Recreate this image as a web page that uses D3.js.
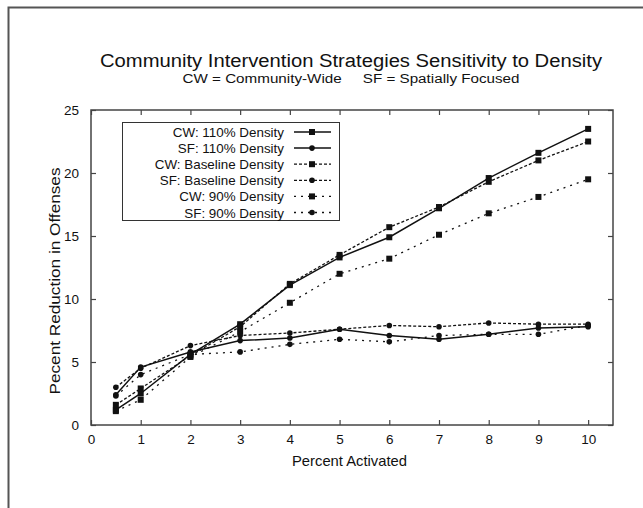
<!DOCTYPE html>
<html>
<head>
<meta charset="utf-8">
<script src="https://cdn.jsdelivr.net/npm/d3@7"></script>
<style>
  body { margin: 0; background: #fff; }
  text { font-family: "Liberation Sans", Arial, sans-serif; fill: #111; }
</style>
</head>
<body>
<svg id="chart" width="643" height="508"></svg>
<script>
// values
var percentActivated = [0.5, 1, 2, 3, 4, 5, 6, 7, 8, 9, 10];
var cw110 = [1.2, 2.5, 5.6, 8.0, 11.1, 13.3, 14.9, 17.2, 19.6, 21.6, 23.5];
var sf110 = [2.4, 4.6, 5.8, 6.7, 6.9, 7.6, 7.1, 6.8, 7.2, 7.7, 7.8];
var cwBase = [1.6, 2.9, 5.5, 7.8, 11.2, 13.5, 15.7, 17.3, 19.3, 21.0, 22.5];
var sfBase = [3.0, 4.5, 6.3, 7.1, 7.3, 7.6, 7.9, 7.8, 8.1, 8.0, 8.0];
var cw90 = [1.1, 2.0, 5.4, 7.4, 9.7, 12.0, 13.2, 15.1, 16.8, 18.1, 19.5];
var sf90 = [2.3, 4.0, 5.6, 5.8, 6.4, 6.8, 6.6, 7.1, 7.2, 7.2, 7.9];

var seriesNames = ["CW: 110% Density", "SF: 110% Density", "CW: Baseline Density",
                   "SF: Baseline Density", "CW: 90% Density", "SF: 90% Density"];
var seriesValues = [cw110, sf110, cwBase, sfBase, cw90, sf90];
var xTicks = [0, 1, 2, 3, 4, 5, 6, 7, 8, 9, 10];
var yTicks = [0, 5, 10, 15, 20, 25];

var dashes = [null, null, "3,2", "3,2", "2,5", "2,5"];
var shapes = ["square", "circle", "square", "circle", "square", "circle"];

var svg = d3.select("#chart");

// outer frame (only top and left visible)
svg.append("path")
  .attr("d", "M8.5,520 L8.5,7.5 L660,7.5")
  .attr("fill", "none").attr("stroke", "#555").attr("stroke-width", 2);

var m = {left: 91, right: 613, top: 110, bottom: 425};

var x = d3.scaleLinear().domain([0, 10.5]).range([m.left, m.right]);
var y = d3.scaleLinear().domain([0, 25]).range([m.bottom, m.top]);

svg.append("text").attr("x", 351).attr("y", 67).attr("text-anchor", "middle")
  .attr("font-size", 18).attr("textLength", 502).attr("lengthAdjust", "spacingAndGlyphs")
  .text("Community Intervention Strategies Sensitivity to Density");
svg.append("text").attr("x", 351).attr("y", 83).attr("text-anchor", "middle")
  .attr("font-size", 12.5).attr("textLength", 337).attr("lengthAdjust", "spacingAndGlyphs")
  .attr("xml:space", "preserve")
  .text("CW = Community-Wide     SF = Spatially Focused");

var axisG = svg.append("g");
axisG.append("g").attr("transform", "translate(0," + m.bottom + ")")
  .call(d3.axisBottom(x).tickValues(xTicks).tickSizeInner(-5).tickSizeOuter(0).tickPadding(9));
axisG.append("g").attr("transform", "translate(0," + m.top + ")")
  .call(d3.axisTop(x).tickValues(xTicks).tickSizeInner(-5).tickSizeOuter(0).tickFormat(""));
axisG.append("g").attr("transform", "translate(" + m.left + ",0)")
  .call(d3.axisLeft(y).tickValues(yTicks).tickSizeInner(-5).tickSizeOuter(0).tickPadding(12));
axisG.append("g").attr("transform", "translate(" + m.right + ",0)")
  .call(d3.axisRight(y).tickValues(yTicks).tickSizeInner(-5).tickSizeOuter(0).tickFormat(""));

axisG.selectAll(".domain").remove();
axisG.selectAll(".tick line").attr("stroke", "#444").attr("stroke-width", 1.2);
axisG.selectAll(".tick text").attr("font-size", 13.5).attr("font-family", "Liberation Sans, Arial, sans-serif").attr("fill", "#111");

svg.append("rect").attr("x", m.left).attr("y", m.top)
  .attr("width", m.right - m.left).attr("height", m.bottom - m.top)
  .attr("fill", "none").attr("stroke", "#444").attr("stroke-width", 1.5);

svg.append("text").attr("x", 349.5).attr("y", 466).attr("text-anchor", "middle")
  .attr("font-size", 14.5).attr("textLength", 115).attr("lengthAdjust", "spacingAndGlyphs")
  .text("Percent Activated");
svg.append("text").attr("transform", "translate(60,281) rotate(-90)")
  .attr("text-anchor", "middle").attr("font-size", 14.5)
  .attr("textLength", 227).attr("lengthAdjust", "spacingAndGlyphs")
  .text("Pecent Reduction in Offenses");

var line = d3.line().x(function(d) { return x(d.x); }).y(function(d) { return y(d.y); });

function drawMarker(g, shape, cx, cy) {
  if (shape === "square") {
    g.append("rect").attr("x", cx - 3).attr("y", cy - 3).attr("width", 6).attr("height", 6).attr("fill", "#111");
  } else {
    g.append("circle").attr("cx", cx).attr("cy", cy).attr("r", 2.8).attr("fill", "#111");
  }
}

var plot = svg.append("g");
seriesValues.forEach(function(vals, i) {
  var pts = vals.map(function(v, j) { return {x: percentActivated[j], y: v}; });
  plot.append("path").attr("d", line(pts)).attr("fill", "none")
    .attr("stroke", "#111").attr("stroke-width", dashes[i] ? 1.3 : 1.5)
    .attr("stroke-dasharray", dashes[i]);
  pts.forEach(function(p) { drawMarker(plot, shapes[i], x(p.x), y(p.y)); });
});

// legend
var lg = svg.append("g");
lg.append("rect").attr("x", 122.5).attr("y", 122.5).attr("width", 217).attr("height", 98)
  .attr("fill", "#fff").attr("stroke", "#333").attr("stroke-width", 1);
seriesNames.forEach(function(name, i) {
  var ry = 132 + i * 16.1;
  lg.append("text").attr("x", 284).attr("y", ry + 5).attr("text-anchor", "end")
    .attr("font-size", 13.4).text(name);
  lg.append("line").attr("x1", 294).attr("x2", 331).attr("y1", ry).attr("y2", ry)
    .attr("stroke", "#111").attr("stroke-width", dashes[i] ? 1.3 : 1.5)
    .attr("stroke-dasharray", dashes[i]);
  drawMarker(lg, shapes[i], 312, ry);
});
</script>
</body>
</html>
